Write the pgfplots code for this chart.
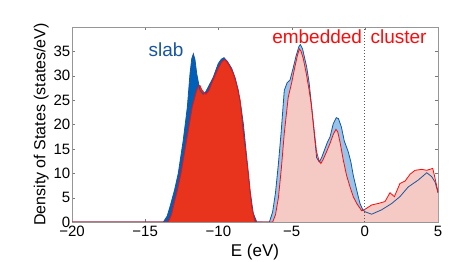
\documentclass[border=0pt]{standalone}
\usepackage{fontspec}
\setmainfont{Liberation Sans}
\usepackage{pgfplots}
\pgfplotsset{compat=1.18}
\definecolor{slabdark}{RGB}{0,96,184}
\definecolor{slablight}{RGB}{150,196,234}
\definecolor{slabline}{RGB}{25,85,160}
\definecolor{clusterfill}{RGB}{232,52,28}
\definecolor{clusterpink}{RGB}{246,202,196}
\definecolor{clusterline}{RGB}{255,10,10}
\definecolor{framegray}{RGB}{150,150,150}
\begin{document}
\begin{tikzpicture}
\useasboundingbox (0,0) rectangle (463pt,262pt);
\begin{axis}[
  scale only axis, width=366pt, height=195pt,
  at={(72pt,40pt)}, anchor=south west,
  xmin=-20, xmax=5, ymin=0, ymax=40,
  xtick={-20,-15,-10,-5,0,5},
  xticklabels={−20,−15,−10,−5,0,5},
  ytick={0,5,10,15,20,25,30,35},
  yticklabels={0,5,10,15,20,25,30,35},
  tick label style={font=\fontsize{15}{15}\selectfont},
  ylabel style={font=\fontsize{16}{16}\selectfont},
  xlabel style={font=\fontsize{17}{17}\selectfont, yshift=-4pt},
  xlabel={E (eV)}, ylabel={Density of States (states/eV)},
  axis line style={framegray},
  tick style={framegray!80!black},
  tick align=inside, major tick length=3pt,
  yticklabel style={inner xsep=1.5pt, inner ysep=0pt, text depth=0pt},
  xticklabel style={inner ysep=0pt, text depth=0pt, yshift=-4pt},
  clip=true,
]
% slab fills
\addplot[draw=none, fill=slabdark] coordinates {
(-20,0) (-14.2,0) (-13.76,0) (-13.5,1.2) (-13.31,3.1) (-13.0,6.5) (-12.74,10) (-12.40,16.8) (-12.12,23.6) (-11.94,30.4) (-11.82,33.5) (-11.71,34.5) (-11.60,33.3) (-11.48,30.4) (-11.26,27.0) (-11.03,26.2) (-10.85,26.8) (-10.69,27.7) (-10.35,29.7) (-10.01,32.5) (-9.80,33.4) (-9.62,33.7) (-9.40,33.0) (-9.09,31.5) (-8.85,29.5) (-8.64,27) (-8.45,23.5) (-8.30,20.2) (-8.07,13.4) (-7.84,6.5) (-7.62,1.8) (-7.38,0) (-7.0,0)
} \closedcycle;
\addplot[draw=none, fill=slablight] coordinates {
(-7.0,0) (-6.52,0) (-6.3,2) (-6.1,6) (-5.9,12) (-5.72,18.2) (-5.50,27) (-5.3,28.6) (-5.11,29.1) (-4.9,31.5) (-4.7,34) (-4.5,36.0) (-4.40,36.4) (-4.25,35.5) (-4.1,33.5) (-3.97,31.8) (-3.8,28.5) (-3.63,23.6) (-3.45,18.0) (-3.29,13.2) (-3.11,12.3) (-2.95,13.2) (-2.75,14.8) (-2.55,16.4) (-2.38,17.4) (-2.15,20.2) (-1.95,21.4) (-1.80,21.2) (-1.6,19.5) (-1.4,16.6) (-1.13,14.4) (-0.95,12.3) (-0.79,9.6) (-0.55,6.5) (-0.33,3.8) (-0.15,2.6) (0.01,2.1) (0.47,1.6) (1.15,2.5) (1.84,3.8) (2.40,5.2) (2.97,7.2) (3.65,8.6) (4.23,10.1) (4.57,9.3) (4.80,8.2) (5.0,6.0)
} \closedcycle;
% cluster fills
\addplot[draw=none, fill=clusterfill] coordinates {
(-20,0) (-13.42,0) (-13.2,1.5) (-13.08,3.1) (-12.8,6.5) (-12.55,10) (-12.17,16.8) (-11.78,23.6) (-11.5,26.8) (-11.35,27.9) (-11.26,28.0) (-11.15,27.2) (-11.0,26.6) (-10.85,26.2) (-10.65,26.9) (-10.46,28.4) (-10.2,30.2) (-10.01,31.5) (-9.75,32.9) (-9.55,33.3) (-9.3,32.3) (-8.98,30.4) (-8.75,28) (-8.52,25) (-8.30,18.2) (-7.96,10) (-7.73,3.1) (-7.50,0) (-7.0,0)
} \closedcycle;
\addplot[draw=none, fill=clusterpink] coordinates {
(-7.0,0) (-6.29,0) (-6.1,1.5) (-5.9,5) (-5.7,11) (-5.50,18.2) (-5.23,25.6) (-5.0,28.5) (-4.8,31.5) (-4.6,34.2) (-4.47,35.5) (-4.35,35) (-4.2,33.5) (-4.0,30.5) (-3.8,27) (-3.65,24) (-3.52,20.5) (-3.3,14.5) (-3.15,12.8) (-3.00,12.0) (-2.85,12.8) (-2.6,14.5) (-2.38,16.1) (-2.15,18.0) (-1.97,19.0) (-1.85,18.5) (-1.7,16.5) (-1.47,12.7) (-1.24,9.5) (-1.01,7.2) (-0.79,5.2) (-0.55,3.8) (-0.21,2.3) (0.01,2.6) (0.47,3.5) (0.92,3.8) (1.38,4.2) (1.72,6.0) (2.02,5.2) (2.40,7.9) (2.75,8.4) (3.09,9.8) (3.43,10.6) (3.89,10.8) (4.23,10.6) (4.64,11.0) (4.75,9.6) (4.98,6.5) (5.0,6.0)
} \closedcycle;
% slab line
\addplot[slabline, line width=0.8pt] coordinates {
(-20,0) (-14.2,0) (-13.76,0) (-13.5,1.2) (-13.31,3.1) (-13.0,6.5) (-12.74,10) (-12.40,16.8) (-12.12,23.6) (-11.94,30.4) (-11.82,33.5) (-11.71,34.5) (-11.60,33.3) (-11.48,30.4) (-11.26,27.0) (-11.03,26.2) (-10.85,26.8) (-10.69,27.7) (-10.35,29.7) (-10.01,32.5) (-9.80,33.4) (-9.62,33.7) (-9.40,33.0) (-9.09,31.5) (-8.85,29.5) (-8.64,27) (-8.45,23.5) (-8.30,20.2) (-8.07,13.4) (-7.84,6.5) (-7.62,1.8) (-7.38,0) (-7.0,0)
(-6.52,0) (-6.3,2) (-6.1,6) (-5.9,12) (-5.72,18.2) (-5.50,27) (-5.3,28.6) (-5.11,29.1) (-4.9,31.5) (-4.7,34) (-4.5,36.0) (-4.40,36.4) (-4.25,35.5) (-4.1,33.5) (-3.97,31.8) (-3.8,28.5) (-3.63,23.6) (-3.45,18.0) (-3.29,13.2) (-3.11,12.3) (-2.95,13.2) (-2.75,14.8) (-2.55,16.4) (-2.38,17.4) (-2.15,20.2) (-1.95,21.4) (-1.80,21.2) (-1.6,19.5) (-1.4,16.6) (-1.13,14.4) (-0.95,12.3) (-0.79,9.6) (-0.55,6.5) (-0.33,3.8) (-0.15,2.6) (0.01,2.1) (0.47,1.6) (1.15,2.5) (1.84,3.8) (2.40,5.2) (2.97,7.2) (3.65,8.6) (4.23,10.1) (4.57,9.3) (4.80,8.2) (5.0,6.0)
};
% cluster line
\addplot[clusterline, line width=0.8pt] coordinates {
(-20,0) (-13.42,0) (-13.2,1.5) (-13.08,3.1) (-12.8,6.5) (-12.55,10) (-12.17,16.8) (-11.78,23.6) (-11.5,26.8) (-11.35,27.9) (-11.26,28.0) (-11.15,27.2) (-11.0,26.6) (-10.85,26.2) (-10.65,26.9) (-10.46,28.4) (-10.2,30.2) (-10.01,31.5) (-9.75,32.9) (-9.55,33.3) (-9.3,32.3) (-8.98,30.4) (-8.75,28) (-8.52,25) (-8.30,18.2) (-7.96,10) (-7.73,3.1) (-7.50,0) (-7.0,0)
(-6.29,0) (-6.1,1.5) (-5.9,5) (-5.7,11) (-5.50,18.2) (-5.23,25.6) (-5.0,28.5) (-4.8,31.5) (-4.6,34.2) (-4.47,35.5) (-4.35,35) (-4.2,33.5) (-4.0,30.5) (-3.8,27) (-3.65,24) (-3.52,20.5) (-3.3,14.5) (-3.15,12.8) (-3.00,12.0) (-2.85,12.8) (-2.6,14.5) (-2.38,16.1) (-2.15,18.0) (-1.97,19.0) (-1.85,18.5) (-1.7,16.5) (-1.47,12.7) (-1.24,9.5) (-1.01,7.2) (-0.79,5.2) (-0.55,3.8) (-0.21,2.3) (0.01,2.6) (0.47,3.5) (0.92,3.8) (1.38,4.2) (1.72,6.0) (2.02,5.2) (2.40,7.9) (2.75,8.4) (3.09,9.8) (3.43,10.6) (3.89,10.8) (4.23,10.6) (4.64,11.0) (4.75,9.6) (4.98,6.5) (5.0,6.0)
};
% Fermi level
\addplot[gray!70!black, dotted, line width=1pt] coordinates {(0,0) (0,40)};
\node[anchor=base, text=slabline, font=\fontsize{19}{19}\selectfont] at (axis cs:-13.58,34.0) {slab};
\node[anchor=base, text=clusterline, font=\fontsize{19}{19}\selectfont] at (axis cs:-1.05,36.7) {embedded\hspace{0.45em}cluster};
\end{axis}
\end{tikzpicture}
\end{document}
